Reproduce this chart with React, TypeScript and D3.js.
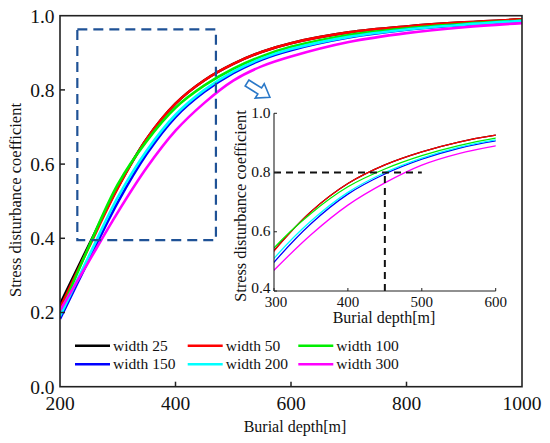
import React from "react";
import * as d3 from "d3";

const depths = [200, 250, 300, 350, 400, 450, 500, 550, 600, 700, 800, 900, 1000];
const width25 = [0.222, 0.382, 0.537, 0.668, 0.763, 0.826, 0.87, 0.903, 0.926, 0.955, 0.971, 0.982, 0.99];
const width50 = [0.212, 0.376, 0.535, 0.668, 0.763, 0.826, 0.87, 0.903, 0.926, 0.955, 0.971, 0.982, 0.99];
const width100 = [0.195, 0.378, 0.545, 0.662, 0.752, 0.812, 0.857, 0.891, 0.916, 0.948, 0.966, 0.978, 0.987];
const width150 = [0.183, 0.342, 0.497, 0.627, 0.727, 0.795, 0.845, 0.882, 0.907, 0.941, 0.962, 0.975, 0.985];
const width200 = [0.19, 0.352, 0.51, 0.636, 0.733, 0.8, 0.849, 0.885, 0.91, 0.943, 0.963, 0.976, 0.986];
const width300 = [0.205, 0.338, 0.47, 0.59, 0.69, 0.765, 0.825, 0.864, 0.89, 0.929, 0.953, 0.969, 0.98];

const seriesNames = ["width 25", "width 50", "width 100", "width 150", "width 200", "width 300"];
const seriesValues = [width25, width50, width100, width150, width200, width300];
const seriesColors = ["#000000", "#ff0000", "#00ee00", "#0000ff", "#00ffff", "#ff00ff"];

const mainXTicks = [200, 400, 600, 800, 1000];
const mainYTicks = [0.0, 0.2, 0.4, 0.6, 0.8, 1.0];
const insetXTicks = [300, 400, 500, 600];
const insetYTicks = [0.4, 0.6, 0.8, 1.0];

const zoomBox = { x0: 230, x1: 470, y0: 0.395, y1: 0.963 };
const refPoint = { x: 450, y: 0.8, xEnd: 500 };

const FONT = "'Liberation Serif', 'Times New Roman', serif";

export default function App() {
  const W = 550, H = 443;
  const m = { left: 60, right: 522, top: 15.7, bottom: 386.7 };
  const x = d3.scaleLinear().domain([200, 1000]).range([m.left, m.right]);
  const y = d3.scaleLinear().domain([0, 1]).range([m.bottom, m.top]);

  const ins = { left: 274, right: 495.7, top: 113.3, bottom: 291 };
  const xi = d3.scaleLinear().domain([300, 600]).range([ins.left, ins.right]);
  const yi = d3.scaleLinear().domain([0.4, 1.0]).range([ins.bottom, ins.top]);

  const mainLine = d3
    .line<[number, number]>()
    .x((d) => x(d[0]))
    .y((d) => y(d[1]))
    .curve(d3.curveCatmullRom.alpha(0.5));
  const insetLine = d3
    .line<[number, number]>()
    .x((d) => xi(d[0]))
    .y((d) => yi(d[1]))
    .curve(d3.curveCatmullRom.alpha(0.5));

  const pts = (vals: number[]) => depths.map((d, i) => [d, vals[i]] as [number, number]);

  const legendCols = [75, 187.7, 298.3];
  const legendRows = [345.7, 364.3];

  // arrow
  const ax = 247, ay = 83, ang = 32;
  const arrowPath = "M0,-3.5 L15,-3.5 L15,-8.5 L27,0 L15,8.5 L15,3.5 L0,3.5 Z";

  return (
    <svg
      width={W}
      height={H}
      style={{ position: "absolute", left: 0, top: 0, background: "#fff" }}
      fontFamily={FONT}
    >
      <defs>
        <clipPath id="mainClip">
          <rect x={m.left} y={m.top} width={m.right - m.left} height={m.bottom - m.top} />
        </clipPath>
        <clipPath id="insetClip">
          <rect x={ins.left} y={ins.top} width={ins.right - ins.left} height={ins.bottom - ins.top} />
        </clipPath>
      </defs>

      {/* main curves */}
      <g clipPath="url(#mainClip)">
        {seriesValues.map((vals, i) => (
          <path key={i} d={mainLine(pts(vals)) || ""} fill="none" stroke={seriesColors[i]} strokeWidth={2.6} />
        ))}
      </g>

      {/* main frame */}
      <rect
        x={m.left}
        y={m.top}
        width={m.right - m.left}
        height={m.bottom - m.top}
        fill="none"
        stroke="#222"
        strokeWidth={1.6}
      />

      {/* main ticks */}
      {mainXTicks.map((t) => (
        <g key={"mx" + t}>
          {t > 200 && t < 1000 && (
            <line x1={x(t)} x2={x(t)} y1={m.bottom} y2={m.bottom - 5} stroke="#222" strokeWidth={1.5} />
          )}
          <text x={x(t)} y={410} fontSize={19.5} textAnchor="middle" fill="#111">
            {t}
          </text>
        </g>
      ))}
      {mainYTicks.map((t) => (
        <g key={"my" + t}>
          {t > 0 && t < 1 && (
            <line x1={m.left} x2={m.left + 5} y1={y(t)} y2={y(t)} stroke="#222" strokeWidth={1.5} />
          )}
          <text x={54.5} y={y(t)} dy="0.35em" fontSize={19.5} textAnchor="end" fill="#111">
            {t.toFixed(1)}
          </text>
        </g>
      ))}

      <text x={295} y={431.5} fontSize={16} textAnchor="middle" fill="#111">
        Burial depth[m]
      </text>
      <text
        transform={`translate(21,200) rotate(-90)`}
        fontSize={16.5}
        textAnchor="middle"
        fill="#111"
      >
        Stress disturbance coefficient
      </text>

      {/* zoom box */}
      <rect
        x={x(zoomBox.x0)}
        y={y(zoomBox.y1)}
        width={x(zoomBox.x1) - x(zoomBox.x0)}
        height={y(zoomBox.y0) - y(zoomBox.y1)}
        fill="none"
        stroke="#1f5296"
        strokeWidth={2.2}
        strokeDasharray="10,6"
      />

      {/* arrow */}
      <path
        d={arrowPath}
        transform={`translate(${ax},${ay}) rotate(${ang})`}
        fill="#fff"
        stroke="#2a78c8"
        strokeWidth={1.6}
        strokeLinejoin="miter"
      />

      {/* legend */}
      {seriesNames.map((name, i) => {
        const col = i % 3;
        const row = Math.floor(i / 3);
        const lx = legendCols[col];
        const ly = legendRows[row];
        return (
          <g key={name}>
            <line x1={lx} x2={lx + 35} y1={ly} y2={ly} stroke={seriesColors[i]} strokeWidth={2.6} />
            <text x={lx + 38} y={ly} dy="0.33em" fontSize={15.5} fill="#111">
              {name}
            </text>
          </g>
        );
      })}

      {/* inset */}
      <g clipPath="url(#insetClip)">
        {seriesValues.map((vals, i) => (
          <path key={i} d={insetLine(pts(vals)) || ""} fill="none" stroke={seriesColors[i]} strokeWidth={1.3} />
        ))}
      </g>
      <line
        x1={xi(300)}
        x2={xi(refPoint.xEnd)}
        y1={yi(refPoint.y)}
        y2={yi(refPoint.y)}
        stroke="#111"
        strokeWidth={2}
        strokeDasharray="7,5"
      />
      <line
        x1={xi(refPoint.x)}
        x2={xi(refPoint.x)}
        y1={yi(0.4)}
        y2={yi(refPoint.y)}
        stroke="#111"
        strokeWidth={2}
        strokeDasharray="7,5"
      />
      <line x1={ins.left} x2={ins.left} y1={ins.top} y2={ins.bottom} stroke="#222" strokeWidth={1.1} />
      <line x1={ins.left} x2={ins.right} y1={ins.bottom} y2={ins.bottom} stroke="#222" strokeWidth={1.1} />
      {insetXTicks.map((t) => (
        <g key={"ix" + t}>
          <line x1={xi(t)} x2={xi(t)} y1={ins.bottom} y2={ins.bottom - 3} stroke="#222" strokeWidth={1} />
          <text x={xi(t) + (t === 300 ? 2 : 0)} y={306.5} fontSize={15} textAnchor="middle" fill="#111">
            {t}
          </text>
        </g>
      ))}
      {insetYTicks.map((t) => (
        <g key={"iy" + t}>
          <line x1={ins.left} x2={ins.left + 3} y1={yi(t)} y2={yi(t)} stroke="#222" strokeWidth={1} />
          <text x={270.5} y={yi(t) - (t === 0.4 ? 3 : 0)} dy="0.3em" fontSize={15.5} textAnchor="end" fill="#111">
            {t.toFixed(1)}
          </text>
        </g>
      ))}
      <text x={384} y={323} fontSize={16} textAnchor="middle" fill="#111">
        Burial depth[m]
      </text>
      <text transform={`translate(246,206) rotate(-90)`} fontSize={16.3} textAnchor="middle" fill="#111">
        Stress disturbance coefficient
      </text>
    </svg>
  );
}
